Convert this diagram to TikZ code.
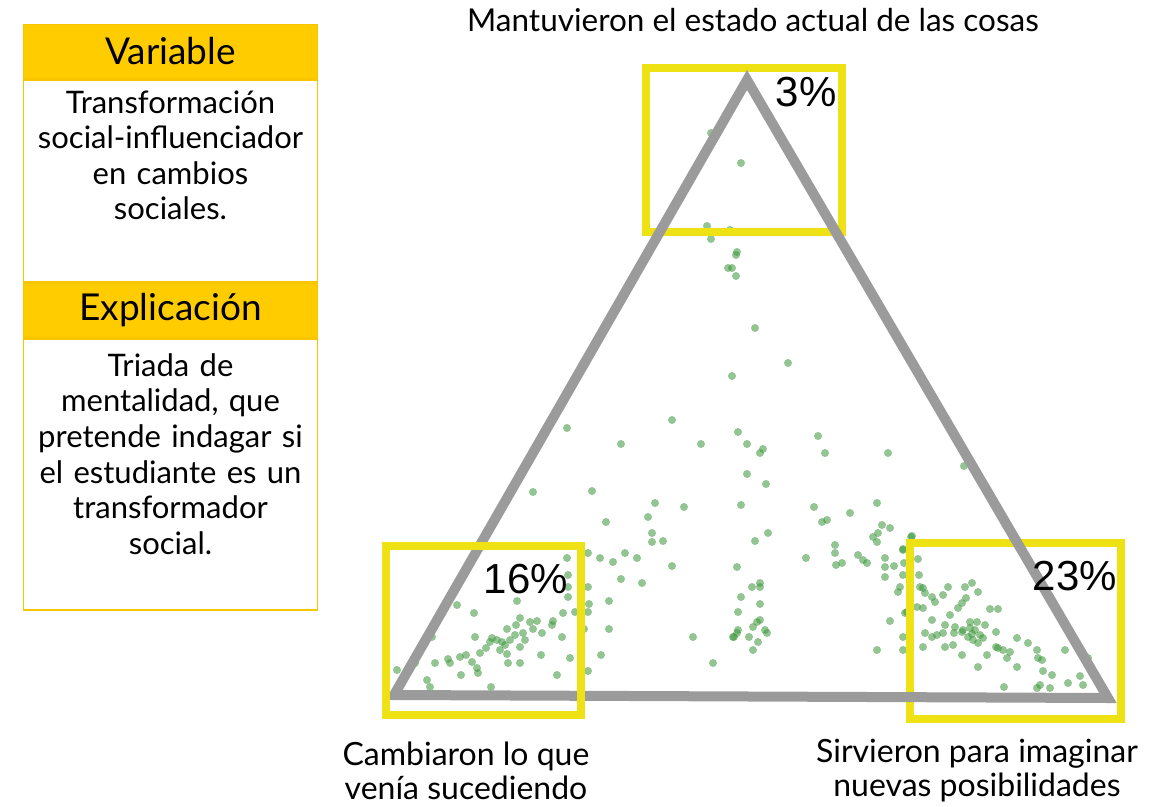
\documentclass[tikz,border=0pt]{standalone}
\usepackage{fontspec}
\setmainfont{Lato}
\newfontfamily\pctfont{Liberation Sans}
\usetikzlibrary{positioning}

\definecolor{gold}{HTML}{FFCC00}
\definecolor{goldline}{HTML}{F7C600}
\definecolor{markyellow}{HTML}{EEE215}
\definecolor{edgegray}{HTML}{9B9B9B}
\definecolor{dotgreen}{HTML}{3A953A}

\tikzset{
  header/.style={fill=gold, draw=goldline, line width=1.5pt, minimum width=294pt,
    minimum height=54pt, inner sep=0pt, font=\fontsize{37}{42}\selectfont},
  bodybox/.style={draw=goldline, line width=1.5pt, minimum width=294pt, inner sep=0pt},
  bodytext/.style={text width=292pt, align=center, inner sep=0pt,
    font=\fontsize{31}{35.6}\selectfont},
  markbox/.style={draw=markyellow, line width=8pt, inner sep=0pt},
  pct/.style={font=\pctfont\fontsize{42}{42}\selectfont, inner sep=0pt},
  corner/.style={align=center, inner sep=0pt, font=\fontsize{32}{34}\selectfont},
  dot/.style={fill=dotgreen, opacity=0.55},
}

\begin{document}
\begin{tikzpicture}[x=1pt, y=-1pt]
  \useasboundingbox (0,0) rectangle (1169,806);

  % Left panel
  \node[header] (var) at (170.5,51.5) {Variable};
  \node[bodybox, minimum height=202pt, below=0pt of var] (varbody) {};
  \node[bodytext, below=11pt of var] (vartext)
    {Transformación\\ social-influenciador\\ en cambios\\ sociales.};
  \node[header, below=0pt of varbody] (expl) {Explicación};
  \node[bodybox, minimum height=271pt, below=0pt of expl] (explbody) {};
  \node[bodytext, below=15pt of expl] (expltext)
    {Triada de\\ mentalidad, que\\ pretende indagar si\\ el estudiante es un\\ transformador\\ social.};

  % Scatter of answers
  \foreach \px/\py in {
    711/133, 741/163, 707/226, 730/230, 711/239, 737/252, 736/255, 728/268, 732/268,
    736/276, 755/328, 788/363, 732/376,
    567/428, 621/444, 672/420, 701/444, 738/432, 747/444, 747/474, 533/492, 592/491,
    655/503, 684/507, 741/505, 606/522, 648/517, 652/533, 652/542, 663/541, 755/541,
    567/558, 588/553, 600/558, 613/562, 625/553, 637/558, 672/566, 737/567, 621/579,
    642/583, 568/575, 568/587, 588/587, 568/597, 517/601, 609/601, 589/604, 575/612,
    563/613, 588/612, 457/605, 474/613, 520/618, 537/621, 553/621, 552/625, 516/625,
    507/629, 533/629, 542/633, 584/629, 609/629, 432/637, 475/637, 492/638, 502/642,
    515/635, 523/633, 562/637, 520/647, 486/648, 480/653, 507/654, 693/637, 734/637,
    541/655, 601/655, 435/663, 448/659, 450/663, 460/657, 466/655, 472/662, 508/663,
    520/663, 570/658, 415/663, 477/668, 478/673, 461/675, 557/675, 588/671, 713/663,
    427/680, 430/687, 491/687, 397/670, 497/640, 505/645, 510/640, 490/642, 525/640,
    500/650, 530/622,
    763/449, 760/453, 818/436, 825/453, 888/453, 766/484, 814/507, 822/522, 827/520,
    850/513, 877/503, 882/525, 890/528, 873/537, 877/542, 878/533, 768/533, 835/545,
    835/553, 836/565, 842/563, 806/558, 858/555, 863/560, 867/563, 885/558, 885/567,
    885/577, 894/566, 903/550, 904/563, 903/575, 752/587, 760/583, 760/587, 741/597,
    760/604, 738/612, 757/622, 760/620, 738/630, 737/633, 753/627, 765/630, 767/633,
    733/637, 749/637, 758/642, 753/650, 890/621, 877/650, 900/587, 898/592, 903/637,
    903/650, 905/613, 964/466, 911/537, 918/559, 919/575, 912/536, 903/549,
    923/588, 920/587, 925/593, 932/597, 935/602, 948/587, 943/595, 965/587, 972/583,
    978/592, 966/598, 962/603, 958/608, 907/612, 917/607, 923/608, 932/620, 950/615,
    990/609, 998/609, 925/633, 932/637, 937/635, 943/633, 945/625, 955/627, 963/630,
    970/622, 977/622, 985/625, 968/637, 973/640, 978/643, 983/638, 980/635, 954/633,
    962/632, 996/632, 923/647, 945/647, 953/645, 962/655, 987/655, 996/647, 998/648,
    1003/650, 1010/652, 1007/658, 1017/638, 1028/643, 1037/650, 1038/658, 1042/660,
    1017/667, 978/667, 1065/650, 1088/658, 1043/671, 1052/675, 1068/683, 1080/676,
    1083/685, 1040/685, 1037/688, 1050/688, 1004/687, 970/628, 975/630, 972/634}
    \fill[dot] (\px,\py) circle (4pt);

  % Highlight boxes behind the triangle
  \node[markbox, minimum width=196pt, minimum height=164pt] (topbox) at (744,150) {};
  \node[markbox, minimum width=211pt, minimum height=175.5pt] (rightbox) at (1015.5,630.75) {};

  % Triangle
  \coordinate (apex) at (747,80);
  \coordinate (leftc) at (394,695);
  \coordinate (rightc) at (1108,698);
  \draw[edgegray, line width=10pt, line join=miter] (apex) -- (leftc) -- (rightc) -- cycle;

  \node[markbox, minimum width=195pt, minimum height=169.5pt] (leftbox) at (483.5,630.25) {};

  % Shares
  \node[pct] (toppct) at (806,92) {3\%};
  \node[pct] (leftpct) at (526,579) {16\%};
  \node[pct] (rightpct) at (1075,576) {23\%};

  % Corner labels
  \node[font=\fontsize{31.5}{34}\selectfont, inner sep=0pt] (toplabel) at (753,20)
    {Mantuvieron el estado actual de las cosas};
  \node[corner] (leftlabel) at (466,771) {Cambiaron lo que\\ venía sucediendo};
  \node[corner] (rightlabel) at (977,771) {Sirvieron para imaginar\\ nuevas posibilidades};
\end{tikzpicture}
\end{document}
